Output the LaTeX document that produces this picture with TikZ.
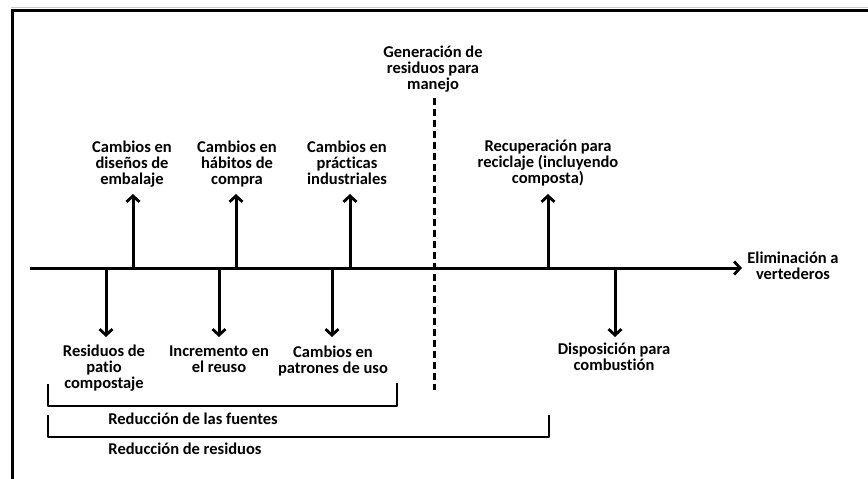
\documentclass[tikz,border=0pt]{standalone}
\usepackage{fontspec}
\setmainfont[Ligatures=NoCommon]{Carlito}
\usetikzlibrary{arrows.meta}
\begin{document}
\begin{tikzpicture}[x=1pt,y=-1pt,
  lbl/.style={font=\bfseries\fontsize{16.5}{16}\selectfont, align=center, inner sep=0pt, anchor=base},
  arr/.style={line width=3pt, -{Straight Barb[length=6pt,width=13pt,line width=2.8pt]}},
  brk/.style={line width=2.8pt, line join=round}]
\useasboundingbox (0,0) rectangle (868,479);
\fill[white] (0,0) rectangle (868,479);
% frame
\draw[gray!40, line width=1.5pt] (11,7.5) -- (868,7.5);
\draw[line width=3pt] (12,479) -- (12,10) -- (868,10);
% axis
\coordinate (a0) at (30,268);
\coordinate (aend) at (742,268);
\draw[arr] (a0) -- (aend);
\node[lbl] (elim) at (793,279) {Eliminación a\\vertederos};
% dashed line
\coordinate (dt) at (434,98);
\coordinate (db) at (434,390);
\draw[line width=3pt, dash pattern=on 7pt off 4pt] (dt) -- (db);
\node[lbl] (gen) at (433,89) {Generación de\\residuos para\\manejo};
% up arrows
\foreach \n/\x in {u1/133,u2/236,u3/350,u4/548}{
  \coordinate (\n b) at (\x,268);
  \coordinate (\n t) at (\x,194);
  \draw[arr] (\n b) -- (\n t);
}
\node[lbl] (l1) at (132,184) {Cambios en\\diseños de\\embalaje};
\node[lbl] (l2) at (237,184) {Cambios en\\hábitos de\\compra};
\node[lbl] (l3) at (347,184) {Cambios en\\prácticas\\industriales};
\node[lbl] (l4) at (548,183) {Recuperación para\\reciclaje (incluyendo\\composta)};
% down arrows
\foreach \n/\x in {d1/106,d2/219,d3/332,d4/615}{
  \coordinate (\n t) at (\x,268);
  \coordinate (\n b) at (\x,337);
  \draw[arr] (\n t) -- (\n b);
}
\node[lbl] (b1) at (104,388) {Residuos de\\patio\\compostaje};
\node[lbl] (b2) at (219,372) {Incremento en\\el reuso};
\node[lbl] (b3) at (333,373) {Cambios en\\patrones de uso};
\node[lbl] (b4) at (614,370) {Disposición para\\combustión};
% brackets
\coordinate (k1a) at (48,384);
\coordinate (k1b) at (48,406);
\coordinate (k1c) at (397,406);
\coordinate (k1d) at (397,383);
\draw[brk] (k1a) -- (k1b) -- (k1c) -- (k1d);
\node[lbl] (rf) at (193,424) {Reducción de las fuentes};
\coordinate (k2a) at (48,415);
\coordinate (k2b) at (48,437);
\coordinate (k2c) at (549,437);
\coordinate (k2d) at (549,415);
\draw[brk] (k2a) -- (k2b) -- (k2c) -- (k2d);
\node[lbl] (rr) at (185,454) {Reducción de residuos};
\end{tikzpicture}
\end{document}
